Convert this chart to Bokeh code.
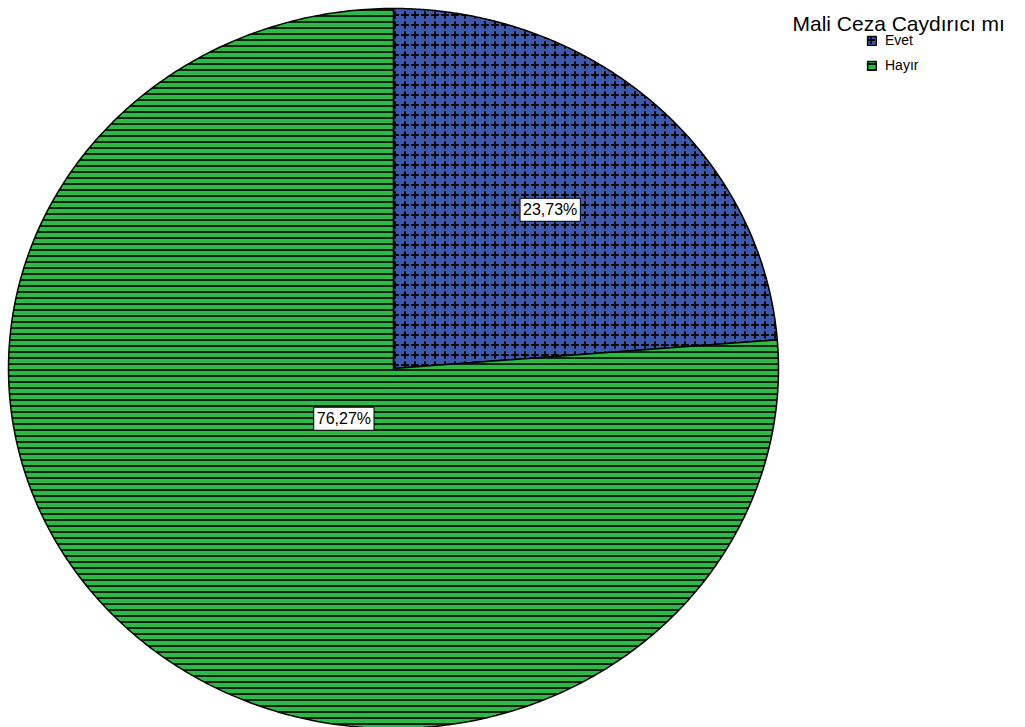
import numpy as np
from bokeh.plotting import figure
from bokeh.models import Range1d, Label, Legend, LegendItem, ImageURLTexture
from bokeh.embed import file_html
from bokeh.resources import INLINE

# ---- data ----
categories = ["Evet", "Hayır"]
percentages = [23.73, 76.27]
label_texts = ["23,73%", "76,27%"]
legend_title = "Mali Ceza Caydırıcı mı"
colors = ["#3E58AC", "#2EB848"]

# ---- layout constants ----
W, H = 1025, 727
cx, cy, rx, ry = 393, 368, 385, 360
label_frac = [0.60, 0.19]

p = figure(width=W, height=H, output_backend="svg", toolbar_location=None,
           x_range=Range1d(0, W), y_range=Range1d(H, 0), min_border=0)
p.axis.visible = False
p.grid.visible = False
p.outline_line_color = None
p.background_fill_color = "white"
p.border_fill_color = "white"

plus_svg = ("data:image/svg+xml;utf8,<svg xmlns='http://www.w3.org/2000/svg' width='10' height='10'>"
            "<rect width='10' height='10' fill='%233E58AC'/>"
            "<path d='M5 1.2V8.8M1.2 5H8.8' stroke='black' stroke-width='1.8'/></svg>")

renderers = []
start = 90.0
for i, (cat, pct) in enumerate(zip(categories, percentages)):
    end = start - pct / 100.0 * 360.0
    t = np.radians(np.linspace(start, end, 400))
    xs = [cx] + list(cx + rx * np.cos(t))
    ys = [cy] + list(cy - ry * np.sin(t))
    if i == 0:
        r = p.patch(xs, ys, fill_color=colors[i], line_color="black", line_width=1.5,
                    hatch_pattern="plus", hatch_extra={"plus": ImageURLTexture(url=plus_svg)})
    else:
        r = p.patch(xs, ys, fill_color=colors[i], line_color="black", line_width=1.5,
                    hatch_pattern="horizontal_line", hatch_scale=6, hatch_weight=1.6,
                    hatch_color="black")
    renderers.append(r)
    mid = np.radians((start + end) / 2.0)
    lx = cx + label_frac[i] * rx * np.cos(mid)
    ly = cy - label_frac[i] * ry * np.sin(mid)
    p.add_layout(Label(x=lx, y=ly, text=label_texts[i], text_align="center",
                       text_baseline="middle", text_font="Liberation Sans",
                       text_font_size="16px", text_color="black",
                       background_fill_color="white", border_line_color="black",
                       border_line_width=1, padding=3))
    start = end

p.add_layout(Label(x=792, y=23, text=legend_title, text_font="Liberation Sans",
                   text_font_size="21px", text_baseline="alphabetic", text_color="black"))

legend = Legend(items=[LegendItem(label=c, renderers=[r]) for c, r in zip(categories, renderers)],
                location=(866, H - 30 - 45), orientation="vertical",
                glyph_width=11, glyph_height=11, label_height=20, spacing=5,
                label_standoff=8, padding=0, margin=0,
                label_text_font="Liberation Sans", label_text_font_size="14px",
                label_text_color="black",
                border_line_color=None, background_fill_alpha=0)
p.add_layout(legend)

open("out.html", "w").write(file_html(p, INLINE))
